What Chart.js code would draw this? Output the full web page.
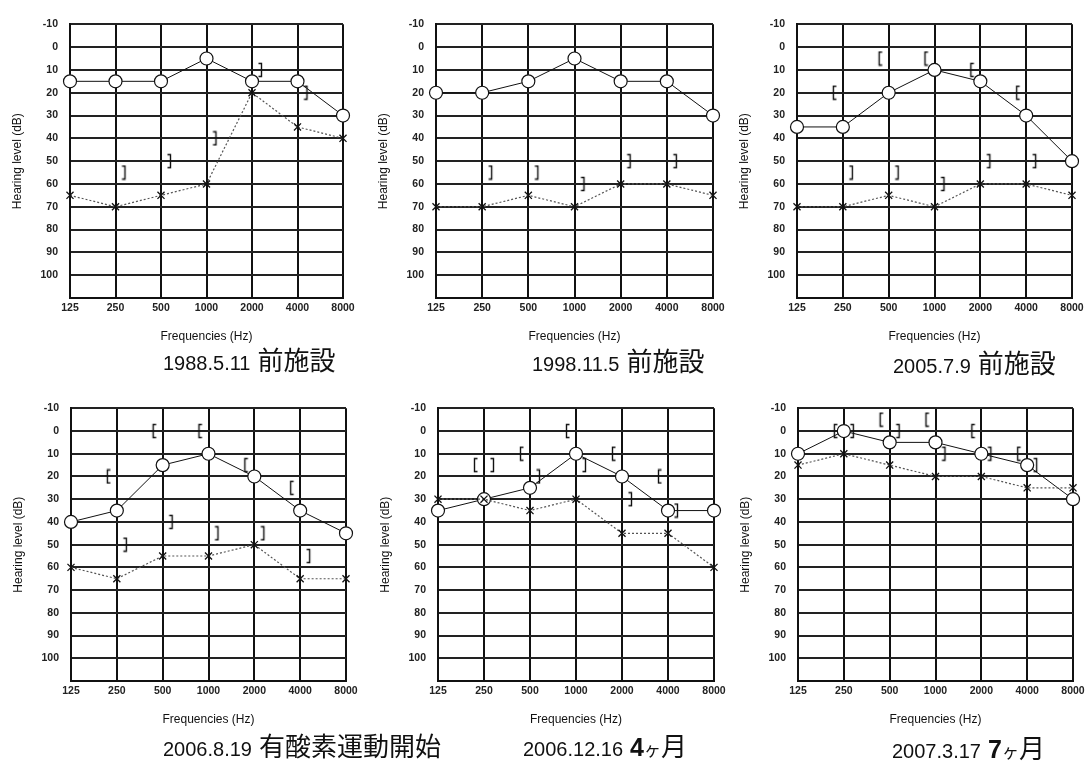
<!DOCTYPE html>
<html>
<head>
<meta charset="utf-8">
<script src="https://cdn.jsdelivr.net/npm/chart.js@4.4.1/dist/chart.umd.min.js"></script>
<style>
  body { margin: 0; background: #fff; width: 1089px; height: 764px; position: relative; overflow: hidden; }
  canvas { position: absolute; }
  .cap { position: absolute; white-space: nowrap; font-family: "Noto Sans CJK JP", sans-serif; color: #111; line-height: 26px; }
  .cap .d { font-family: "Liberation Sans", Arial, sans-serif; font-size: 20px; }
  .cap .j { font-size: 26px; margin-left: 7px; }
  .cap .n { font-family: "Liberation Sans", Arial, sans-serif; font-size: 25px; font-weight: bold; }
  .cap .k { font-size: 17px; }
</style>
</head>
<body>
<script>
const freqs = ['125', '250', '500', '1000', '2000', '4000', '8000'];

// one row per audiogram, same order as dates
const dates = ['1988.5.11', '1998.11.5', '2005.7.9', '2006.8.19', '2006.12.16', '2007.3.17'];
const notes = ['前施設', '前施設', '前施設', '有酸素運動開始', '4ヶ月', '7ヶ月'];

// O  (solid line)
const airO = [
  [15, 15, 15, 5, 15, 15, 30],
  [20, 20, 15, 5, 15, 15, 30],
  [35, 35, 20, 10, 15, 30, 50],
  [40, 35, 15, 10, 20, 35, 45],
  [35, 30, 25, 10, 20, 35, 35],
  [10, 0, 5, 5, 10, 15, 30]
];
// X  (dotted line)
const airX = [
  [65, 70, 65, 60, 20, 35, 40],
  [70, 70, 65, 70, 60, 60, 65],
  [70, 70, 65, 70, 60, 60, 65],
  [60, 65, 55, 55, 50, 65, 65],
  [30, 30, 35, 30, 45, 45, 60],
  [15, 10, 15, 20, 20, 25, 25]
];
// [  marks
const boneOpen = [
  [null, null, null, null, null, null, null],
  [null, null, null, null, null, null, null],
  [null, 20, 5, 5, 10, 20, null],
  [null, 20, 0, 0, 15, 25, null],
  [null, 15, 10, 0, 10, 20, null],
  [null, 0, -5, -5, 0, 10, null]
];
// ]  marks
const boneClose = [
  [null, 55, 50, 40, 10, 20, null],
  [null, 55, 55, 60, 50, 50, null],
  [null, 55, 55, 60, 50, 50, null],
  [null, 50, 40, 45, 45, 55, null],
  [null, 15, 20, 15, 30, 35, null],
  [null, 0, 0, 10, 10, 15, null]
];

// plot areas and caption spots on the page
const plots = [
  { l: 70, t: 16, r: 343, b: 298 },
  { l: 436, t: 16, r: 713, b: 298 },
  { l: 797, t: 16, r: 1072, b: 298 },
  { l: 71, t: 400, r: 346, b: 681 },
  { l: 438, t: 400, r: 714, b: 681 },
  { l: 798, t: 400, r: 1073, b: 681 }
];
const capSpots = [
  { x: 163, base: 369 }, { x: 532, base: 370 }, { x: 893, base: 372 },
  { x: 163, base: 755 }, { x: 523, base: 755 }, { x: 892, base: 757 }
];

const AXIS_W = 60, AXIS_H = 46, PAD_T = 10, PAD_R = 16;

function bracket(side) {
  const c = document.createElement('canvas');
  c.width = 28; c.height = 16;
  const g = c.getContext('2d');
  g.strokeStyle = '#111';
  g.lineWidth = 1.4;
  g.beginPath();
  if (side === 'open') {
    g.moveTo(7.5, 1.5); g.lineTo(4.5, 1.5); g.lineTo(4.5, 14.5); g.lineTo(7.5, 14.5);
  } else {
    g.moveTo(20.5, 1.5); g.lineTo(23.5, 1.5); g.lineTo(23.5, 14.5); g.lineTo(20.5, 14.5);
  }
  g.stroke();
  return c;
}
const openMark = bracket('open');
const closeMark = bracket('close');

const tickFont = { family: 'Liberation Sans, Arial, sans-serif', size: 10.5, weight: 'bold' };
const titleFont = { family: 'Liberation Sans, Arial, sans-serif', size: 12 };

function makeChart(i) {
  const p = plots[i];
  const cv = document.createElement('canvas');
  cv.width = (p.r - p.l) + AXIS_W + PAD_R;
  cv.height = (p.b - p.t) + PAD_T + AXIS_H;
  cv.style.left = (p.l - AXIS_W) + 'px';
  cv.style.top = (p.t - PAD_T) + 'px';
  document.body.appendChild(cv);

  new Chart(cv, {
    type: 'line',
    data: {
      labels: freqs,
      datasets: [
        {
          data: airX[i],
          borderColor: '#555',
          borderWidth: 1.2,
          borderDash: [2, 2],
          pointStyle: 'crossRot',
          pointRadius: 5,
          pointBorderColor: '#111',
          pointBorderWidth: 1.3,
          clip: false
        },
        {
          data: airO[i],
          borderColor: '#111',
          borderWidth: 1,
          pointStyle: 'circle',
          pointRadius: 6.5,
          pointBackgroundColor: '#fff',
          pointBorderColor: '#111',
          pointBorderWidth: 1.2,
          clip: false
        },
        { data: boneOpen[i], showLine: false, pointStyle: openMark, pointRadius: 3, clip: false },
        { data: boneClose[i], showLine: false, pointStyle: closeMark, pointRadius: 3, clip: false }
      ]
    },
    options: {
      responsive: false,
      devicePixelRatio: 1,
      animation: false,
      events: [],
      layout: { padding: { top: PAD_T, right: PAD_R, left: 0, bottom: 0 } },
      plugins: { legend: { display: false }, tooltip: { enabled: false } },
      scales: {
        x: {
          type: 'category',
          offset: false,
          afterFit: (s) => { s.height = AXIS_H; },
          grid: { color: '#111', lineWidth: 2, drawTicks: false },
          border: { color: '#111', width: 2 },
          ticks: { font: tickFont, color: '#222', padding: 4, maxRotation: 0, autoSkip: false },
          title: { display: true, text: 'Frequencies (Hz)', font: titleFont, color: '#111', padding: 0 }
        },
        y: {
          reverse: true,
          min: -10,
          max: 110,
          afterFit: (s) => { s.width = AXIS_W; },
          grid: { color: '#222', lineWidth: 2, drawTicks: false },
          border: { color: '#111', width: 2 },
          ticks: {
            stepSize: 10,
            font: tickFont,
            color: '#222',
            padding: 12,
            callback: (v) => (v > 100 ? '' : v)
          },
          title: { display: true, text: 'Hearing level (dB)', font: titleFont, color: '#111', padding: 0 }
        }
      }
    }
  });

  const cap = document.createElement('div');
  cap.className = 'cap';
  cap.style.left = capSpots[i].x + 'px';
  cap.style.top = (capSpots[i].base - 23) + 'px';
  const note = notes[i]
    .replace(/^(\d+)/, '<span class="n">$1</span>')
    .replace('ヶ', '<span class="k">ヶ</span>');
  cap.innerHTML = '<span class="d">' + dates[i] + '</span><span class="j">' + note + '</span>';
  document.body.appendChild(cap);
}

for (let i = 0; i < plots.length; i++) makeChart(i);
</script>
</body>
</html>
